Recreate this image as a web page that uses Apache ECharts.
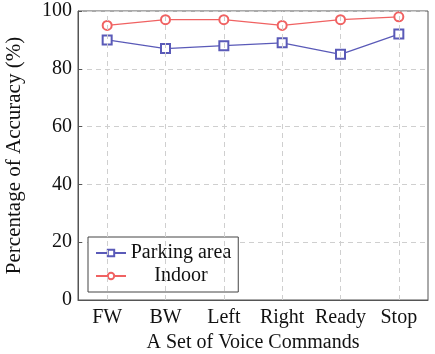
<!DOCTYPE html>
<html>
<head>
<meta charset="utf-8">
<script src="https://cdn.jsdelivr.net/npm/echarts@6/dist/echarts.min.js"></script>
<style>
  html, body { margin: 0; padding: 0; background: #fff; }
  #chart { width: 435px; height: 354px; }
</style>
</head>
<body>
<div id="chart"></div>
<script>
// 数据
const commands = ['FW', 'BW', 'Left', 'Right', 'Ready', 'Stop'];
const parkingArea = [90, 87, 88, 89, 85, 92];
const indoor = [95, 97, 97, 95, 97, 98];
const yTicks = [0, 20, 40, 60, 80, 100];

const font = 'Liberation Serif, Times New Roman, serif';
const blue = '#5a5ab8';
const red = '#f06262';
const gridColor = '#cfcfcf';

const myChart = echarts.init(document.getElementById('chart'));

let option = {
    backgroundColor: '#fff',
    animation: false,
    grid: {
        left: 78,
        right: 7,
        top: 11,
        bottom: 54,
        outerBoundsMode: 'none',
        containLabel: false,
        show: true,
        borderColor: '#555',
        borderWidth: 1
    },
    legend: {
        orient: 'vertical',
        left: 88,
        top: 237,
        padding: [6, 7, 6, 7],
        itemGap: 3,
        itemWidth: 30,
        itemHeight: 8,
        backgroundColor: '#fff',
        borderColor: '#444',
        borderWidth: 1,
        formatter: name => '{c|' + name + '}',
        textStyle: {
            fontFamily: font,
            fontSize: 20,
            color: '#111',
            rich: {
                c: { width: 100, lineHeight: 20, align: 'center', fontFamily: font, fontSize: 20, color: '#111' }
            }
        },
        data: ['Parking area', 'Indoor']
    },
    xAxis: {
        type: 'category',
        data: commands,
        boundaryGap: true,
        name: 'A Set of Voice Commands',
        nameLocation: 'middle',
        nameGap: 33,
        nameTextStyle: { fontFamily: font, fontSize: 20, color: '#111' },
        axisLine: { show: true, lineStyle: { color: '#555' } },
        axisTick: { show: false },
        axisLabel: { interval: 0, fontFamily: font, fontSize: 20, color: '#111', margin: 8 },
        splitLine: { show: false }
    },
    yAxis: {
        type: 'value',
        min: yTicks[0],
        max: yTicks[yTicks.length - 1],
        interval: 20,
        name: 'Percentage of Accuracy (%)',
        nameLocation: 'middle',
        nameGap: 53,
        nameTextStyle: { fontFamily: font, fontSize: 21, color: '#111' },
        axisLine: { show: true, lineStyle: { color: '#555' } },
        axisTick: { show: true, inside: true, length: 4, lineStyle: { color: '#555' } },
        axisLabel: { fontFamily: font, fontSize: 20, color: '#111', margin: 6 },
        splitLine: { show: true, lineStyle: { color: gridColor, type: [5, 4], width: 1 } }
    },
    series: [
        {
            name: 'Parking area',
            type: 'line',
            data: parkingArea,
            symbol: 'emptyRect',
            symbolSize: 9,
            itemStyle: { color: blue, borderWidth: 1 },
            lineStyle: { color: blue, width: 1.2 },
            z: 3,
            markLine: {
                silent: true,
                symbol: 'none',
                label: { show: false },
                lineStyle: { color: gridColor, type: [5, 4], width: 1 },
                data: commands.map(c => ({ xAxis: c }))
            }
        },
        {
            name: 'Indoor',
            type: 'line',
            data: indoor,
            symbol: 'emptyCircle',
            symbolSize: 9,
            itemStyle: { color: red, borderWidth: 1 },
            lineStyle: { color: red, width: 1.2 },
            z: 3
        }
    ]
};

myChart.setOption(option);
</script>
</body>
</html>
